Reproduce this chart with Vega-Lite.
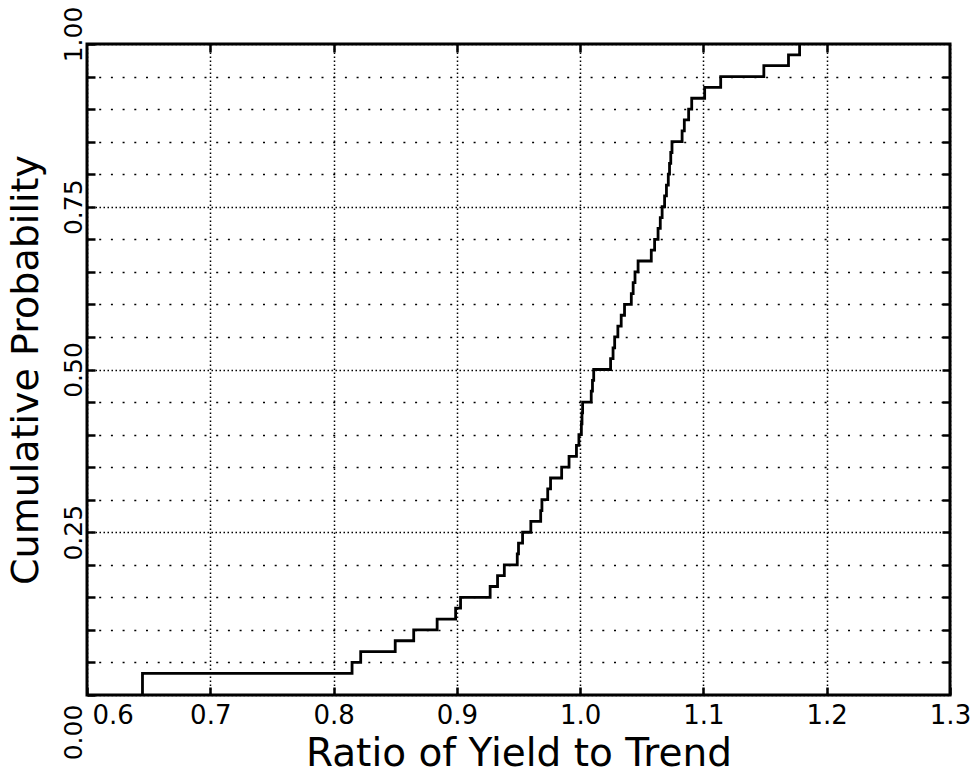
{
  "$schema": "https://vega.github.io/schema/vega-lite/v6.json",
  "width": 863,
  "height": 651,
  "autosize": {"type": "none"},
  "padding": {"left": 87, "top": 44, "right": 29, "bottom": 84},
  "background": "white",
  "config": {
    "view": {"stroke": "black", "strokeWidth": 3},
    "axis": {
      "domain": false,
      "labelFont": "DejaVu Sans",
      "titleFont": "DejaVu Sans",
      "titleFontWeight": "normal",
      "labelColor": "black",
      "titleColor": "black",
      "tickColor": "black",
      "gridColor": "black",
      "gridOpacity": 1
    }
  },
  "data": {
    "values": [
      {"rank": 0, "ratio": 0.645, "cum": 0},
      {"rank": 1, "ratio": 0.645, "cum": 0.0167},
      {"rank": 2, "ratio": 0.645, "cum": 0.0333},
      {"rank": 3, "ratio": 0.815, "cum": 0.05},
      {"rank": 4, "ratio": 0.822, "cum": 0.0667},
      {"rank": 5, "ratio": 0.85, "cum": 0.0833},
      {"rank": 6, "ratio": 0.865, "cum": 0.1},
      {"rank": 7, "ratio": 0.884, "cum": 0.1167},
      {"rank": 8, "ratio": 0.899, "cum": 0.1333},
      {"rank": 9, "ratio": 0.903, "cum": 0.15},
      {"rank": 10, "ratio": 0.927, "cum": 0.1667},
      {"rank": 11, "ratio": 0.933, "cum": 0.1833},
      {"rank": 12, "ratio": 0.9385, "cum": 0.2},
      {"rank": 13, "ratio": 0.949, "cum": 0.2167},
      {"rank": 14, "ratio": 0.95, "cum": 0.2333},
      {"rank": 15, "ratio": 0.9533, "cum": 0.25},
      {"rank": 16, "ratio": 0.96, "cum": 0.2667},
      {"rank": 17, "ratio": 0.968, "cum": 0.2833},
      {"rank": 18, "ratio": 0.969, "cum": 0.3},
      {"rank": 19, "ratio": 0.9737, "cum": 0.3167},
      {"rank": 20, "ratio": 0.976, "cum": 0.3333},
      {"rank": 21, "ratio": 0.985, "cum": 0.35},
      {"rank": 22, "ratio": 0.991, "cum": 0.3667},
      {"rank": 23, "ratio": 0.997, "cum": 0.3833},
      {"rank": 24, "ratio": 0.999, "cum": 0.4},
      {"rank": 25, "ratio": 1.001, "cum": 0.4167},
      {"rank": 26, "ratio": 1.0015, "cum": 0.4333},
      {"rank": 27, "ratio": 1.002, "cum": 0.45},
      {"rank": 28, "ratio": 1.009, "cum": 0.4667},
      {"rank": 29, "ratio": 1.01, "cum": 0.4833},
      {"rank": 30, "ratio": 1.011, "cum": 0.5},
      {"rank": 31, "ratio": 1.0247, "cum": 0.5167},
      {"rank": 32, "ratio": 1.0267, "cum": 0.5333},
      {"rank": 33, "ratio": 1.028, "cum": 0.55},
      {"rank": 34, "ratio": 1.0306, "cum": 0.5667},
      {"rank": 35, "ratio": 1.0333, "cum": 0.5833},
      {"rank": 36, "ratio": 1.036, "cum": 0.6},
      {"rank": 37, "ratio": 1.0415, "cum": 0.6167},
      {"rank": 38, "ratio": 1.043, "cum": 0.6333},
      {"rank": 39, "ratio": 1.0445, "cum": 0.65},
      {"rank": 40, "ratio": 1.047, "cum": 0.6667},
      {"rank": 41, "ratio": 1.0577, "cum": 0.6833},
      {"rank": 42, "ratio": 1.0604, "cum": 0.7},
      {"rank": 43, "ratio": 1.0632, "cum": 0.7167},
      {"rank": 44, "ratio": 1.065, "cum": 0.7333},
      {"rank": 45, "ratio": 1.0665, "cum": 0.75},
      {"rank": 46, "ratio": 1.0685, "cum": 0.7667},
      {"rank": 47, "ratio": 1.07, "cum": 0.7833},
      {"rank": 48, "ratio": 1.0715, "cum": 0.8},
      {"rank": 49, "ratio": 1.0725, "cum": 0.8167},
      {"rank": 50, "ratio": 1.0735, "cum": 0.8333},
      {"rank": 51, "ratio": 1.0745, "cum": 0.85},
      {"rank": 52, "ratio": 1.0827, "cum": 0.8667},
      {"rank": 53, "ratio": 1.0845, "cum": 0.8833},
      {"rank": 54, "ratio": 1.088, "cum": 0.9},
      {"rank": 55, "ratio": 1.0905, "cum": 0.9167},
      {"rank": 56, "ratio": 1.101, "cum": 0.9333},
      {"rank": 57, "ratio": 1.114, "cum": 0.95},
      {"rank": 58, "ratio": 1.149, "cum": 0.9667},
      {"rank": 59, "ratio": 1.169, "cum": 0.9833},
      {"rank": 60, "ratio": 1.178, "cum": 1.0}
    ]
  },
  "layer": [
    {
      "mark": {"type": "line", "interpolate": "step-after", "color": "black", "strokeWidth": 2.8},
      "encoding": {
        "x": {
          "field": "ratio",
          "type": "quantitative",
          "scale": {"domain": [0.6, 1.3], "nice": false, "zero": false},
          "axis": {
            "orient": "bottom",
            "values": [0.6, 0.7, 0.8, 0.9, 1.0, 1.1, 1.2, 1.3],
            "format": ".1f",
            "labelFlush": false,
            "labelFontSize": 26,
            "labelPadding": 15,
            "labelAlign": {"condition": {"test": "datum.value < 0.65", "value": "left"}, "value": "center"},
            "labelOffset": {"condition": {"test": "datum.value < 0.65", "value": 5}, "value": 0},
            "tickSize": -8,
            "tickWidth": 2.5,
            "grid": true,
            "gridDash": [1.5, 2.5],
            "gridWidth": 1.5,
            "title": "Ratio of Yield to Trend",
            "titleFontSize": 39,
            "titleY": 39
          }
        },
        "y": {
          "field": "cum",
          "type": "quantitative",
          "scale": {"domain": [0, 1], "nice": false},
          "axis": {
            "orient": "left",
            "values": [0, 0.05, 0.1, 0.15, 0.2, 0.25, 0.3, 0.35, 0.4, 0.45, 0.5, 0.55, 0.6, 0.65, 0.7, 0.75, 0.8, 0.85, 0.9, 0.95, 1.0],
            "labelExpr": "abs(datum.value * 4 - round(datum.value * 4)) < 0.001 ? format(datum.value, '.2f') : ''",
            "labelFontSize": 25,
            "labelAngle": -90,
            "labelAlign": "center",
            "labelBaseline": "alphabetic",
            "labelPadding": 14,
            "labelOffset": {"condition": [{"test": "datum.value < 0.01", "value": 37}, {"test": "datum.value > 0.99", "value": -10}], "value": 0},
            "tickSize": -8,
            "tickWidth": 2.5,
            "grid": true,
            "gridDash": {"condition": {"test": "abs(datum.value * 4 - round(datum.value * 4)) < 0.001", "value": [1.5, 2.5]}, "value": [2, 9.7]},
            "gridWidth": 1.5,
            "title": "Cumulative Probability",
            "titleFontSize": 38,
            "titleX": -42
          }
        },
        "order": {"field": "rank", "type": "quantitative"}
      }
    },
    {
      "mark": {"type": "line", "interpolate": "step-after", "opacity": 0},
      "encoding": {
        "x": {
          "field": "ratio",
          "type": "quantitative",
          "axis": {
            "orient": "top",
            "values": [0.7, 0.8, 0.9, 1.0, 1.1, 1.2],
            "labels": false,
            "grid": false,
            "tickSize": -8,
            "tickWidth": 2.5,
            "title": null
          }
        },
        "y": {
          "field": "cum",
          "type": "quantitative",
          "axis": {
            "orient": "right",
            "values": [0.05, 0.1, 0.15, 0.2, 0.25, 0.3, 0.35, 0.4, 0.45, 0.5, 0.55, 0.6, 0.65, 0.7, 0.75, 0.8, 0.85, 0.9, 0.95],
            "labels": false,
            "grid": false,
            "tickSize": -8,
            "tickWidth": 2.5,
            "title": null
          }
        },
        "order": {"field": "rank", "type": "quantitative"}
      }
    }
  ],
  "resolve": {"axis": {"x": "independent", "y": "independent"}}
}
